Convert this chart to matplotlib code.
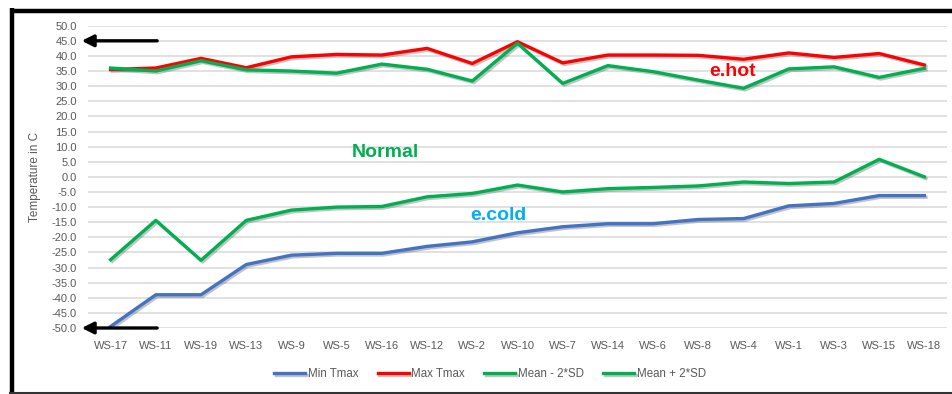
import matplotlib
matplotlib.use('Agg')
from matplotlib import pyplot
from matplotlib import patheffects
from matplotlib.lines import Line2D

stations = ['WS-17', 'WS-11', 'WS-19', 'WS-13', 'WS-9', 'WS-5', 'WS-16', 'WS-12', 'WS-2', 'WS-10',
            'WS-7', 'WS-14', 'WS-6', 'WS-8', 'WS-4', 'WS-1', 'WS-3', 'WS-15', 'WS-18']
min_tmax = [-49.5, -39.0, -39.0, -29.0, -25.9, -25.3, -25.3, -23.0, -21.5, -18.5,
            -16.5, -15.5, -15.5, -14.1, -13.8, -9.6, -8.8, -6.2, -6.2]
max_tmax = [35.5, 36.0, 39.2, 36.1, 39.7, 40.5, 40.3, 42.5, 37.5, 44.7,
            37.7, 40.3, 40.3, 40.2, 38.9, 41.0, 39.5, 40.8, 37.0]
mean_minus_2sd = [-27.4, -14.4, -27.6, -14.4, -11.0, -10.0, -9.8, -6.6, -5.5, -2.7,
                  -5.0, -3.9, -3.5, -3.0, -1.7, -2.2, -1.7, 5.8, 0.0]
mean_plus_2sd = [36.0, 35.0, 38.4, 35.4, 35.0, 34.3, 37.3, 35.6, 31.7, 44.2,
                 30.9, 36.8, 34.8, 32.0, 29.3, 35.7, 36.4, 32.9, 35.9]
yticks = list(range(-50, 51, 5))

blue = '#4472C4'
red = '#FF0000'
green = '#00B050'
grey_text = '#595959'

pyplot.rcParams['font.family'] = ['Liberation Sans', 'DejaVu Sans']

fig = pyplot.figure(figsize=(9.53, 3.94), dpi=100)
W, H = 953.0, 394.0
ax = fig.add_axes([88 / W, 1 - 328 / H, (947 - 88) / W, (328 - 25.7) / H])

x = list(range(len(stations)))
shadow = [patheffects.SimpleLineShadow(offset=(1.2, -1.2), alpha=0.35, shadow_color='#555555'),
          patheffects.Normal()]
series = [(min_tmax, blue, 'Min Tmax'),
          (max_tmax, red, 'Max Tmax'),
          (mean_minus_2sd, green, 'Mean - 2*SD'),
          (mean_plus_2sd, green, 'Mean + 2*SD')]
for vals, col, lab in series:
    ax.plot(x, vals, color=col, lw=2.4, label=lab, solid_joinstyle='round',
            path_effects=shadow, zorder=3)

ax.set_xlim(-0.5, len(stations) - 0.5)
ax.set_ylim(-50, 50)
ax.set_yticks(yticks)
ax.set_yticklabels(['%.1f' % v for v in yticks])
ax.set_xticks(x)
ax.set_xticklabels(stations)
ax.tick_params(axis='both', length=0, colors=grey_text, labelsize=8)
ax.tick_params(axis='x', pad=9.5)
ax.tick_params(axis='y', pad=8)
ax.grid(axis='y', color='#D9D9D9', lw=1.1)
ax.set_axisbelow(True)
for s in ax.spines.values():
    s.set_visible(False)

fig.text(35 / W, 1 - 177 / H, 'Temperature in C', rotation=90, ha='center', va='center',
         fontsize=8.5, color=grey_text)

# arrows pointing at the axis limits
for yv in (45, -50):
    ax.annotate('', xy=(-0.64, yv), xytext=(1.03, yv), annotation_clip=False,
                arrowprops=dict(arrowstyle='-|>,head_length=0.7,head_width=0.35',
                                color='black', lw=2.4, shrinkA=0, shrinkB=0))

fig.text(385 / W, 1 - 152 / H, 'Normal', ha='center', va='center', fontsize=14,
         fontweight='bold', color=green)
fig.text(733 / W, 1 - 72 / H, 'e.hot', ha='center', va='center', fontsize=14,
         fontweight='bold', color=red)
fig.text(498 / W, 1 - 215 / H, 'e.cold', ha='center', va='center', fontsize=14,
         fontweight='bold', color='#00B0F0')

handles = [Line2D([], [], color=c, lw=2.4, path_effects=shadow) for _, c, _ in series]
fig.legend(handles, [l for _, _, l in series], loc='center', bbox_to_anchor=(490 / W, 1 - 374 / H),
           ncol=4, frameon=False, fontsize=8.3, labelcolor=grey_text, handlelength=2.7,
           handletextpad=0.2, columnspacing=1.7)

# black frame around the chart
frame = dict(transform=fig.transFigure, color='black', solid_capstyle='butt')
fig.add_artist(Line2D([12 / W, 12 / W], [1 - 8 / H, 1 - 393 / H], lw=3.2, **frame))
fig.add_artist(Line2D([10 / W, 1.0], [1 - 10.5 / H, 1 - 10.5 / H], lw=3.2, **frame))
fig.add_artist(Line2D([10 / W, 1.0], [1 - 392.5 / H, 1 - 392.5 / H], lw=1.5,
                      transform=fig.transFigure, color='#333333'))

fig.savefig('out.png', dpi=100)
